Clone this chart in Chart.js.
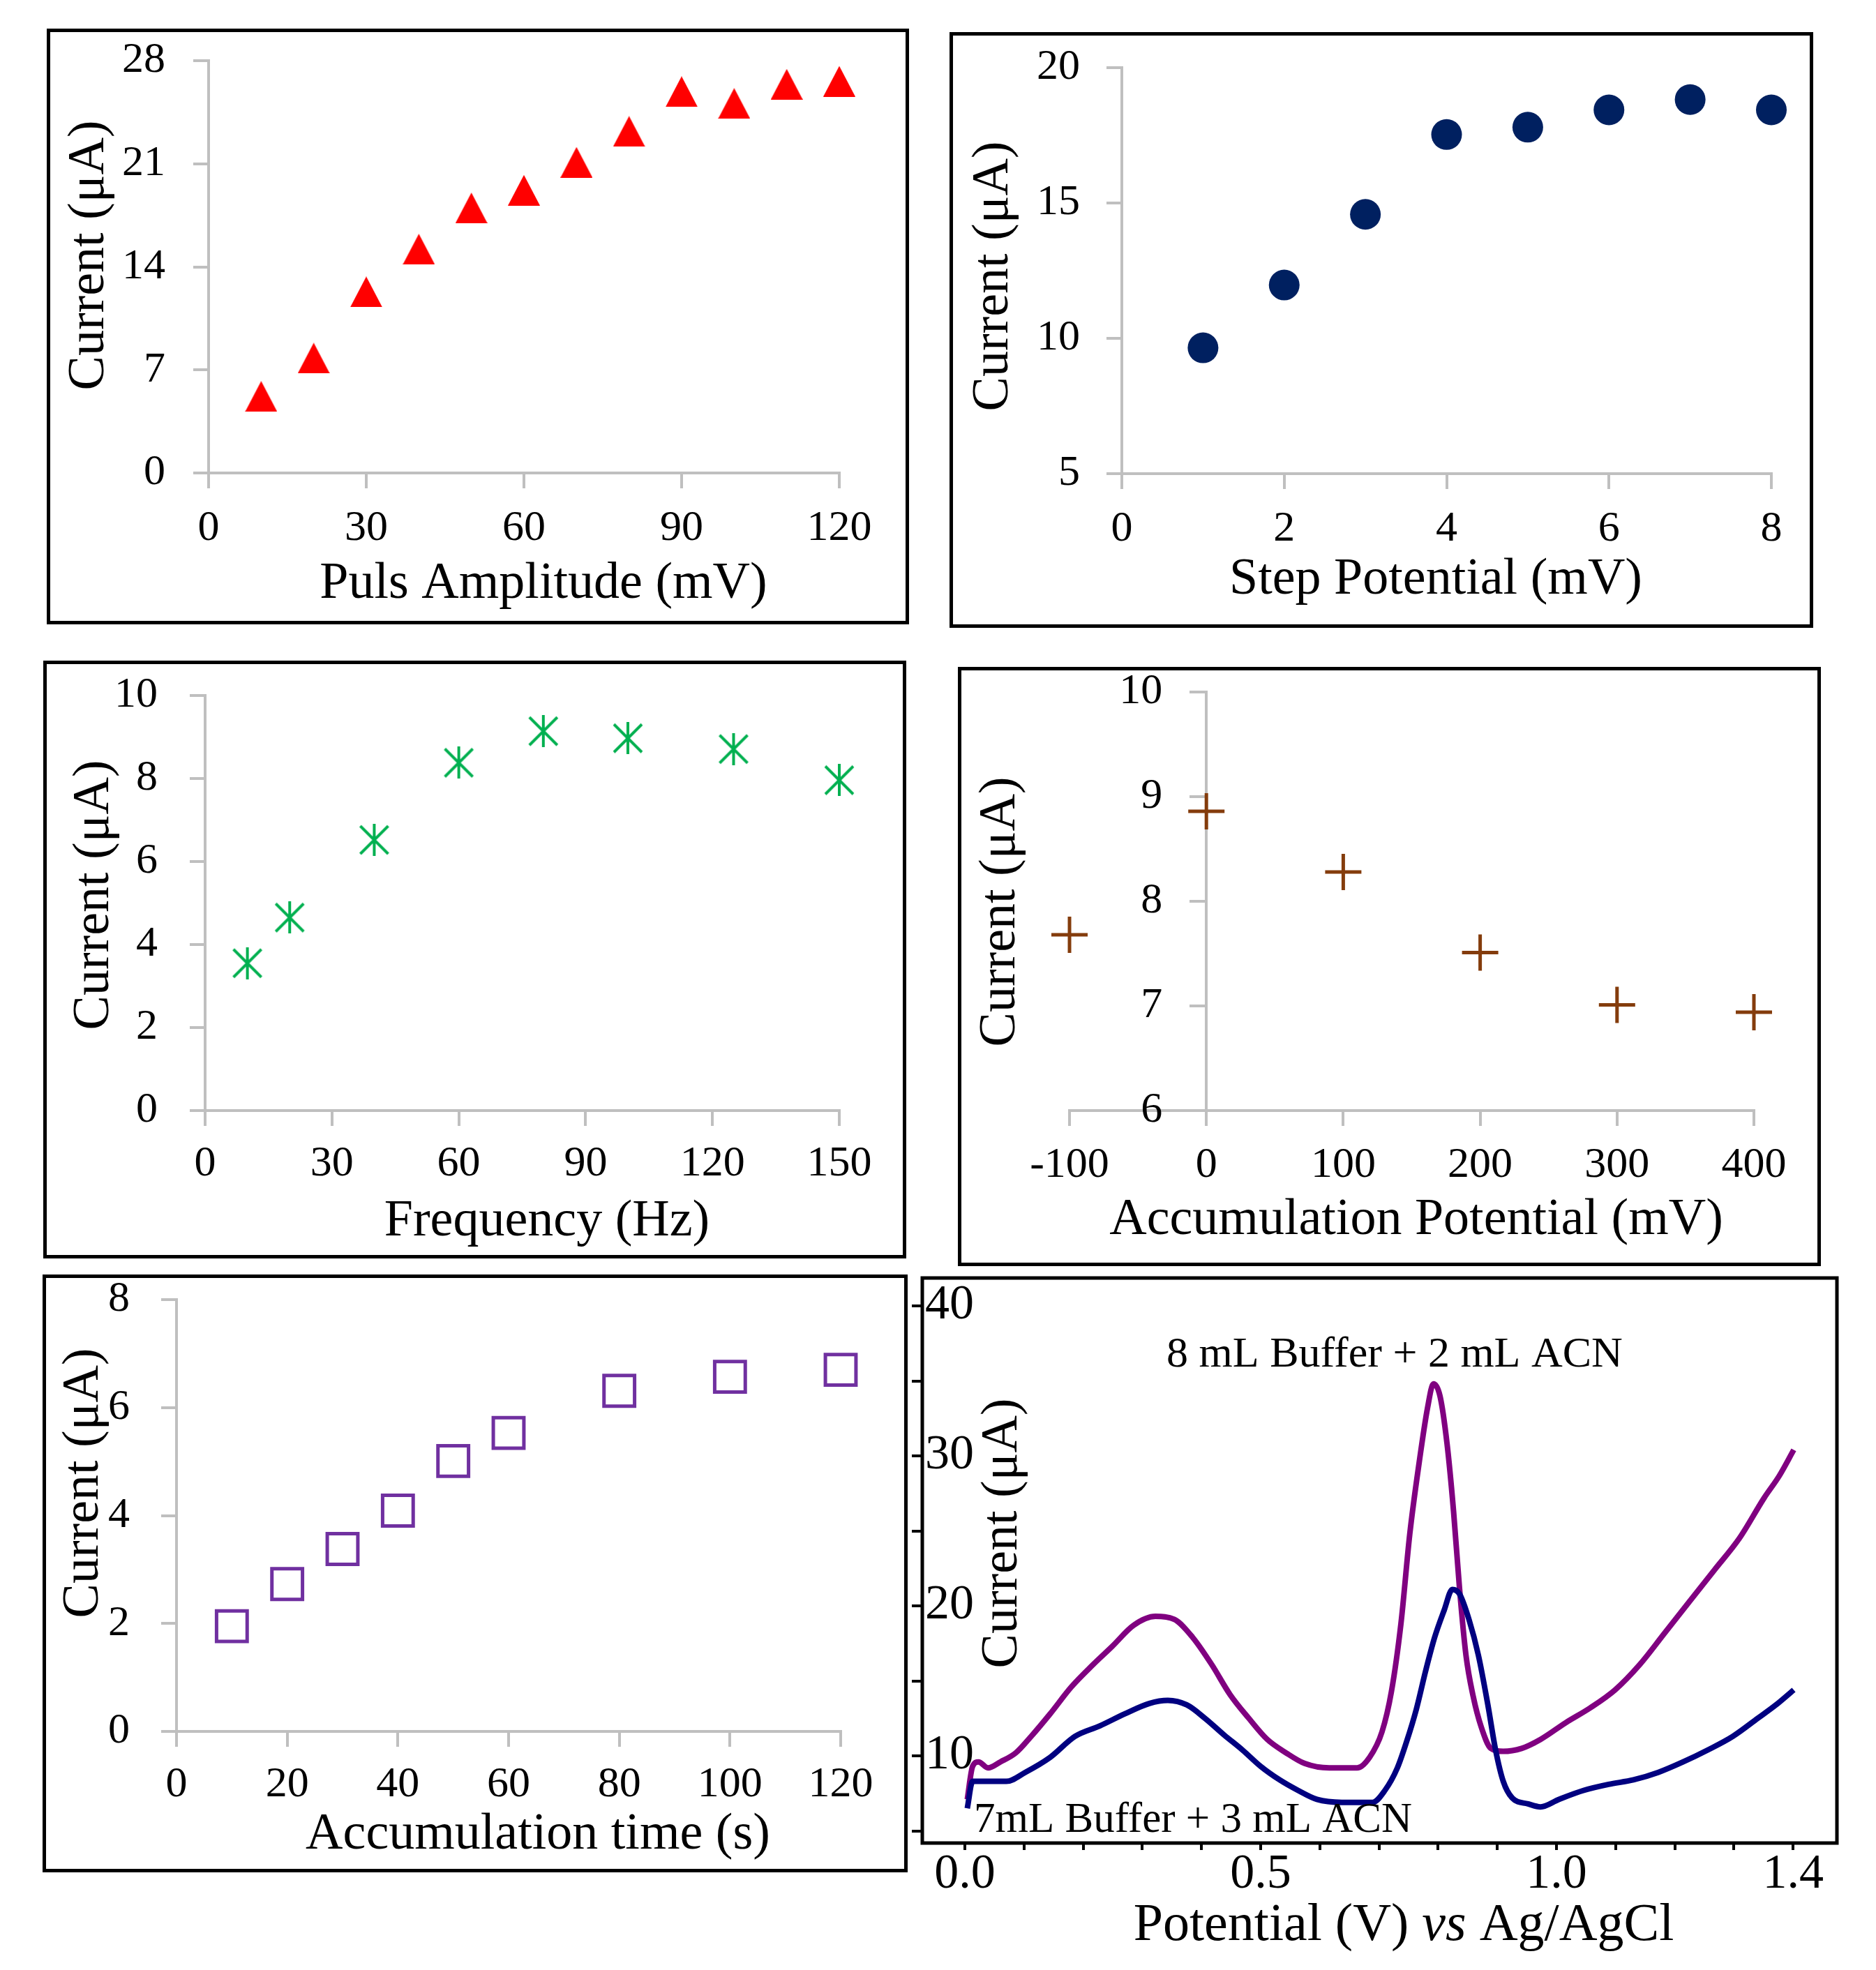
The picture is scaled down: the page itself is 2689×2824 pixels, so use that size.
<!DOCTYPE html>
<html lang="en">
<head>
    <meta charset="UTF-8">
    <title>Voltammetric parameter optimisation</title>
    <script src="https://cdn.jsdelivr.net/npm/chart.js"></script>
    <style>
        html, body {
            margin: 0;
            padding: 0;
            background: #fff;
        }
        body {
            position: relative;
            width: 2689px;
            height: 2824px;
            overflow: hidden;
        }
        .panel {
            position: absolute;
        }
    </style>
</head>
<body>
    <div class="panel" style="left:67px; top:41px; width:1236px; height:854px;"><canvas id="pulsChart"></canvas></div>
    <div class="panel" style="left:1361px; top:46px; width:1238px; height:854px;"><canvas id="stepChart"></canvas></div>
    <div class="panel" style="left:62px; top:947px; width:1237px; height:857px;"><canvas id="freqChart"></canvas></div>
    <div class="panel" style="left:1373px; top:956px; width:1237px; height:859px;"><canvas id="accPotChart"></canvas></div>
    <div class="panel" style="left:61px; top:1827px; width:1240px; height:857px;"><canvas id="accTimeChart"></canvas></div>
    <div class="panel" style="left:1300px; top:1820px; width:1389px; height:1004px;"><canvas id="cvChart"></canvas></div>

    <script>
        // Pulse amplitude
        const pulsAmplitude = [10, 20, 30, 40, 50, 60, 70, 80, 90, 100, 110, 120];
        const pulsCurrent = [5.2, 7.8, 12.3, 15.2, 18.0, 19.2, 21.1, 23.2, 25.9, 25.1, 26.4, 26.6];

        // Step potential
        const stepPotential = [1, 2, 3, 4, 5, 6, 7, 8];
        const stepCurrent = [9.65, 11.97, 14.58, 17.53, 17.8, 18.44, 18.82, 18.44];

        // Frequency
        const frequency = [10, 20, 40, 60, 80, 100, 125, 150];
        const freqCurrent = [3.55, 4.65, 6.52, 8.38, 9.14, 8.97, 8.71, 7.96];

        // Accumulation potential
        const accPotential = [-100, 0, 100, 200, 300, 400];
        const accPotCurrent = [7.68, 8.86, 8.28, 7.51, 7.01, 6.94];

        // Accumulation time
        const accTime = [10, 20, 30, 40, 50, 60, 80, 100, 120];
        const accTimeCurrent = [1.95, 2.73, 3.38, 4.09, 5.01, 5.53, 6.31, 6.57, 6.70];

        // Voltammograms: 8 mL Buffer + 2 mL ACN
        const potentialA = [0.004, 0.013, 0.023, 0.039, 0.06, 0.086, 0.112, 0.144, 0.18, 0.217, 0.249, 0.285, 0.322, 0.354,
            0.385, 0.417, 0.448, 0.48, 0.511, 0.543, 0.574, 0.616, 0.663, 0.684, 0.705, 0.721, 0.737, 0.752, 0.768, 0.782,
            0.792, 0.803, 0.815, 0.826, 0.836, 0.847, 0.859, 0.873, 0.889, 0.91, 0.941, 0.973, 1.015, 1.057, 1.099, 1.141,
            1.183, 1.225, 1.267, 1.309, 1.351, 1.377, 1.401];
        const currentA = [7.1, 9.3, 9.6, 9.2, 9.6, 10.2, 11.3, 12.8, 14.6, 16.1, 17.3, 18.7, 19.3, 19.1,
            17.9, 16.1, 14.1, 12.5, 11.1, 10.2, 9.5, 9.2, 9.2, 9.9, 11.6, 14.3, 18.8, 24.8, 29.6, 33.2,
            34.8, 34.0, 30.8, 26.3, 21.2, 16.7, 14.0, 11.9, 10.5, 10.3, 10.5, 11.1, 12.2, 13.2, 14.4, 16.1,
            18.2, 20.3, 22.4, 24.5, 27.2, 28.7, 30.4];

        // Voltammograms: 7 mL Buffer + 3 mL ACN
        const potentialB = [0.004, 0.013, 0.039, 0.07, 0.102, 0.144, 0.186, 0.228, 0.27, 0.312, 0.343, 0.375, 0.406,
            0.438, 0.469, 0.5, 0.532, 0.563, 0.595, 0.637, 0.689, 0.71, 0.731, 0.747, 0.763, 0.779, 0.794, 0.81, 0.824,
            0.836, 0.852, 0.868, 0.884, 0.897, 0.91, 0.925, 0.952, 0.973, 1.004, 1.046, 1.088, 1.13, 1.172, 1.214,
            1.256, 1.298, 1.34, 1.371, 1.401];
        const currentB = [6.5, 8.3, 8.3, 8.3, 8.9, 9.9, 11.3, 12.0, 12.8, 13.5, 13.7, 13.4, 12.5,
            11.4, 10.4, 9.3, 8.4, 7.7, 7.1, 6.9, 6.9, 7.7, 9.2, 11.0, 13.1, 15.7, 17.9, 19.7, 21.1,
            20.8, 19.1, 16.7, 13.4, 10.4, 8.3, 7.2, 6.8, 6.6, 7.1, 7.7, 8.1, 8.4, 8.9, 9.6,
            10.4, 11.3, 12.5, 13.4, 14.4];

        const cvTickValues = [0, 0.5, 1.0, 1.4];
        const cvTickLabels = ['0.0', '0.5', '1.0', '1.4'];

        const FONT = '"Liberation Serif", "Times New Roman", serif';
        const GREY = '#bfbfbf';
        const TITLE = 74;
        const TICK = 62;

        Chart.defaults.font.family = FONT;
        Chart.defaults.color = '#000';
        Chart.defaults.animation = false;

        function pts(xs, ys) {
            return xs.map((x, i) => ({ x: x, y: ys[i] }));
        }

        // fixes scale size so the plot area lands where it should
        function fit(w, h) {
            return function (scale) {
                if (w !== undefined) scale.width = w;
                if (h !== undefined) scale.height = h;
                scale.paddingTop = scale.paddingBottom = scale.paddingLeft = scale.paddingRight = 0;
            };
        }

        function greyAxis(min, max, step, pad, afterFit) {
            return {
                min: min,
                max: max,
                border: { color: GREY, width: 4 },
                grid: { drawOnChartArea: false, color: GREY, lineWidth: 4, tickLength: 22 },
                ticks: { stepSize: step, autoSkip: false, maxRotation: 0, font: { size: TICK }, padding: pad },
                afterFit: afterFit
            };
        }

        function markerCanvas(w, h, draw) {
            const c = document.createElement('canvas');
            c.width = w;
            c.height = h;
            draw(c.getContext('2d'), w, h);
            return c;
        }

        const triangleMark = markerCanvas(46, 44, (g, w, h) => {
            g.fillStyle = '#ff0000';
            g.beginPath();
            g.moveTo(w / 2, 0);
            g.lineTo(w, h);
            g.lineTo(0, h);
            g.closePath();
            g.fill();
        });

        const asteriskMark = markerCanvas(46, 46, (g, w, h) => {
            g.strokeStyle = '#00b050';
            g.lineWidth = 4;
            g.beginPath();
            g.moveTo(w / 2, 0);
            g.lineTo(w / 2, h);
            g.moveTo(3, 3);
            g.lineTo(w - 3, h - 3);
            g.moveTo(w - 3, 3);
            g.lineTo(3, h - 3);
            g.stroke();
        });

        // black box round the canvas or the plot area
        const framePlugin = {
            id: 'frame',
            afterDraw(chart, args, opts) {
                if (!opts.mode) return;
                const ctx = chart.ctx;
                const lw = opts.width || 5;
                ctx.save();
                ctx.strokeStyle = '#000';
                ctx.lineWidth = lw;
                if (opts.mode === 'area') {
                    const a = chart.chartArea;
                    ctx.strokeRect(a.left, a.top, a.right - a.left, a.bottom - a.top);
                } else {
                    ctx.strokeRect(lw / 2, lw / 2, chart.width - lw, chart.height - lw);
                }
                ctx.restore();
            }
        };

        // axis titles and notes, placed by hand
        const textPlugin = {
            id: 'texts',
            afterDraw(chart, args, opts) {
                const ctx = chart.ctx;
                (opts.items || []).forEach(it => {
                    const parts = it.parts || [{ text: it.text }];
                    const fonts = parts.map(p => (p.italic ? 'italic ' : '') + it.size + 'px ' + FONT);
                    ctx.save();
                    ctx.translate(it.x, it.y);
                    if (it.rotate) ctx.rotate(it.rotate * Math.PI / 180);
                    ctx.fillStyle = '#000';
                    ctx.textBaseline = 'middle';
                    ctx.textAlign = 'left';
                    const widths = parts.map((p, i) => {
                        ctx.font = fonts[i];
                        return ctx.measureText(p.text).width;
                    });
                    const total = widths.reduce((a, b) => a + b, 0);
                    let cx = it.align === 'left' ? 0 : -total / 2;
                    parts.forEach((p, i) => {
                        ctx.font = fonts[i];
                        ctx.fillText(p.text, cx, 0);
                        cx += widths[i];
                    });
                    ctx.restore();
                });
            }
        };

        Chart.register(framePlugin, textPlugin);

        function yTitle(x, y) {
            return { text: 'Current (\u03bcA)', x: x, y: y, size: TITLE, rotate: -90 };
        }

        function baseOptions(padding, texts, scales) {
            return {
                responsive: true,
                maintainAspectRatio: false,
                layout: { padding: padding },
                plugins: {
                    legend: { display: false },
                    tooltip: { enabled: false },
                    frame: { mode: 'canvas' },
                    texts: { items: texts }
                },
                scales: scales
            };
        }

        // Puls amplitude
        new Chart(document.getElementById('pulsChart'), {
            type: 'scatter',
            data: {
                datasets: [{
                    data: pts(pulsAmplitude, pulsCurrent),
                    pointStyle: triangleMark,
                    pointRadius: 23,
                    clip: false
                }]
            },
            options: baseOptions({ left: 0, top: 46, right: 100, bottom: 0 },
                [{ text: 'Puls Amplitude (mV)', x: 712, y: 797, size: TITLE }, yTitle(62, 325)],
                {
                    x: greyAxis(0, 120, 30, 21, fit(undefined, 217)),
                    y: greyAxis(0, 28, 7, 40, fit(232))
                })
        });

        // Step potential
        new Chart(document.getElementById('stepChart'), {
            type: 'scatter',
            data: {
                datasets: [{
                    data: pts(stepPotential, stepCurrent),
                    pointStyle: 'circle',
                    pointRadius: 22,
                    backgroundColor: '#002060',
                    borderWidth: 0,
                    clip: false
                }]
            },
            options: baseOptions({ left: 0, top: 51, right: 60, bottom: 0 },
                [{ text: 'Step Potential (mV)', x: 697, y: 786, size: TITLE }, yTitle(64, 350)],
                {
                    x: greyAxis(0, 8, 2, 21, fit(undefined, 221)),
                    y: greyAxis(5, 20, 5, 38, fit(247))
                })
        });

        // Frequency
        new Chart(document.getElementById('freqChart'), {
            type: 'scatter',
            data: {
                datasets: [{
                    data: pts(frequency, freqCurrent),
                    pointStyle: asteriskMark,
                    pointRadius: 23,
                    clip: false
                }]
            },
            options: baseOptions({ left: 0, top: 50, right: 96, bottom: 0 },
                [{ text: 'Frequency (Hz)', x: 722, y: 805, size: TITLE }, yTitle(74, 336)],
                {
                    x: greyAxis(0, 150, 30, 18, fit(undefined, 212)),
                    y: greyAxis(0, 10, 2, 46, fit(232))
                })
        });

        // Accumulation potential, y axis crosses at x = 0
        const accPotY = greyAxis(6, 10, 1, 0);
        accPotY.position = { x: 0 };
        accPotY.ticks.display = false;

        new Chart(document.getElementById('accPotChart'), {
            type: 'scatter',
            data: {
                datasets: [{
                    data: pts(accPotential, accPotCurrent),
                    pointStyle: 'cross',
                    pointRadius: 26,
                    borderColor: '#843c0c',
                    borderWidth: 5,
                    clip: false
                }]
            },
            options: baseOptions({ left: 160, top: 36, right: 96, bottom: 0 },
                [{ text: 'Accumulation Potential (mV)', x: 657, y: 794, size: TITLE }, yTitle(62, 351)],
                {
                    x: greyAxis(-100, 400, 100, 20, fit(undefined, 223)),
                    y: accPotY
                }),
            plugins: [{
                id: 'crossedYLabels',
                afterDraw(chart) {
                    const ctx = chart.ctx;
                    const xs = chart.scales.x;
                    const ys = chart.scales.y;
                    const px = xs.getPixelForValue(0) - 63;
                    ctx.save();
                    ctx.font = TICK + 'px ' + FONT;
                    ctx.fillStyle = '#000';
                    ctx.textAlign = 'right';
                    ctx.textBaseline = 'middle';
                    ys.ticks.forEach(t => ctx.fillText(String(t.value), px, ys.getPixelForValue(t.value)));
                    ctx.restore();
                }
            }]
        });

        // Accumulation time
        new Chart(document.getElementById('accTimeChart'), {
            type: 'scatter',
            data: {
                datasets: [{
                    data: pts(accTime, accTimeCurrent),
                    pointStyle: 'rect',
                    pointRadius: 31,
                    borderColor: '#7030a0',
                    backgroundColor: 'rgba(0,0,0,0)',
                    borderWidth: 5,
                    clip: false
                }]
            },
            options: baseOptions({ left: 0, top: 36, right: 96, bottom: 0 },
                [{ text: 'Accumulation time (s)', x: 710, y: 804, size: TITLE }, yTitle(60, 299)],
                {
                    x: greyAxis(0, 120, 20, 18, fit(undefined, 202)),
                    y: greyAxis(0, 8, 2, 45, fit(192))
                })
        });

        // Voltammograms
        const cvOptions = baseOptions({ left: 0, top: 12, right: 56, bottom: 0 },
            [
                { text: '8 mL Buffer + 2 mL ACN', x: 699, y: 123, size: 62 },
                { text: '7mL Buffer + 3 mL ACN', x: 96, y: 790, size: 61, align: 'left' },
                yTitle(138, 378),
                {
                    parts: [{ text: 'Potential (V) ' }, { text: 'vs', italic: true }, { text: ' Ag/AgCl' }],
                    x: 712, y: 941, size: 76
                }
            ],
            {
                x: {
                    min: -0.072,
                    max: 1.474,
                    border: { display: false },
                    grid: { drawOnChartArea: false, color: '#000', lineWidth: 4, tickLength: 10 },
                    ticks: {
                        stepSize: 0.1,
                        includeBounds: false,
                        autoSkip: false,
                        maxRotation: 0,
                        font: { size: 70, lineHeight: 1 },
                        padding: 1,
                        callback: v => {
                            const i = cvTickValues.findIndex(t => Math.abs(t - v) < 1e-6);
                            return i < 0 ? '' : cvTickLabels[i];
                        }
                    },
                    afterFit: fit(undefined, 182)
                },
                y: {
                    min: 4.19,
                    max: 41.86,
                    border: { display: false },
                    grid: { drawOnChartArea: false, color: '#000', lineWidth: 4, tickLength: 15 },
                    ticks: {
                        stepSize: 5,
                        includeBounds: false,
                        autoSkip: false,
                        mirror: true,
                        padding: 4,
                        font: { size: 70 },
                        callback: v => (v % 10 === 0 ? String(v) : '')
                    },
                    afterFit: fit(22)
                }
            });
        cvOptions.plugins.frame = { mode: 'area', width: 5 };

        new Chart(document.getElementById('cvChart'), {
            type: 'scatter',
            data: {
                datasets: [
                    {
                        label: '7mL Buffer + 3 mL ACN',
                        data: pts(potentialB, currentB),
                        showLine: true,
                        pointRadius: 0,
                        borderColor: '#000080',
                        borderWidth: 8,
                        cubicInterpolationMode: 'monotone'
                    },
                    {
                        label: '8 mL Buffer + 2 mL ACN',
                        data: pts(potentialA, currentA),
                        showLine: true,
                        pointRadius: 0,
                        borderColor: '#800080',
                        borderWidth: 8,
                        cubicInterpolationMode: 'monotone'
                    }
                ]
            },
            options: cvOptions
        });
    </script>
</body>
</html>
